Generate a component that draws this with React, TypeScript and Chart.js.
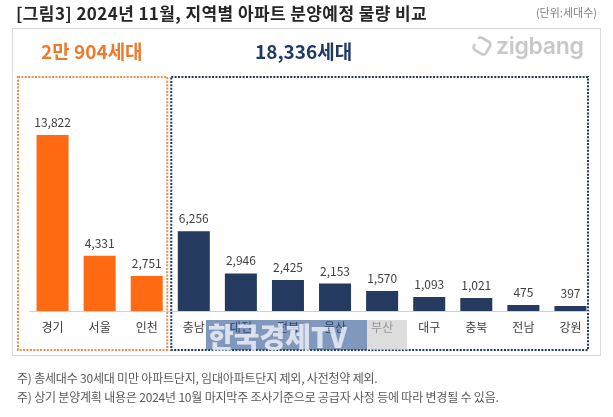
import React, { useEffect, useRef } from "react";
import { Chart, registerables } from "chart.js";

Chart.register(...registerables);

const categories = ["경기", "서울", "인천", "충남", "대전", "전북", "울산", "부산", "대구", "충북", "전남", "강원"];
const households = [13822, 4331, 2751, 6256, 2946, 2425, 2153, 1570, 1093, 1021, 475, 397];
const capitalCount = 3; // 경기·서울·인천
const capitalColor = "#FF6A13";
const provinceColor = "#243A5E";
const capitalTotalLabel = "2만 904세대";
const provinceTotalLabel = "18,336세대";
const yMax = 15000;

const FONT = "'Noto Sans CJK KR', 'Noto Sans', sans-serif";

const decorPlugin = {
  id: "decor",
  beforeDatasetsDraw(chart: any) {
    const { ctx, chartArea, scales } = chart;
    const x = scales.x;
    const y = scales.y;
    const step = (chartArea.right - chartArea.left) / categories.length;
    const boundary = x.getPixelForValue(capitalCount - 1) + step / 2;
    const top = 77;
    const bottom = 350;
    ctx.save();
    ctx.lineWidth = 2;
    ctx.setLineDash([2, 1.4]);
    ctx.strokeStyle = "#F0894A";
    ctx.strokeRect(chartArea.left - 11, top, boundary - 3 - (chartArea.left - 11), bottom - top);
    ctx.strokeStyle = "#1F3864";
    ctx.strokeRect(boundary + 1, top, chartArea.right - 6 - (boundary + 1), bottom - top);
    ctx.setLineDash([]);
    ctx.lineWidth = 1;
    ctx.strokeStyle = "#D0D0D0";
    const y0 = Math.round(y.getPixelForValue(0)) + 0.5;
    ctx.beginPath();
    ctx.moveTo(chartArea.left, y0);
    ctx.lineTo(chartArea.right - 4, y0);
    ctx.stroke();
    ctx.restore();
  },
  afterDatasetsDraw(chart: any) {
    const { ctx } = chart;
    const meta = chart.getDatasetMeta(0);
    ctx.save();
    ctx.font = `12px ${FONT}`;
    ctx.fillStyle = "#404040";
    ctx.textAlign = "center";
    ctx.textBaseline = "alphabetic";
    meta.data.forEach((bar: any, i: number) => {
      ctx.fillText(households[i].toLocaleString("en-US"), bar.x, bar.y - 8);
    });
    ctx.restore();
  },
};

export default function App() {
  const ref = useRef<HTMLCanvasElement | null>(null);

  useEffect(() => {
    if (!ref.current) return;
    const chart = new Chart(ref.current, {
      type: "bar",
      data: {
        labels: categories,
        datasets: [
          {
            data: households,
            backgroundColor: households.map((_, i) => (i < capitalCount ? capitalColor : provinceColor)),
            barPercentage: 0.68,
            categoryPercentage: 1,
          },
        ],
      },
      options: {
        responsive: false,
        animation: false,
        layout: { padding: { left: 29, right: 19, top: 120, bottom: 66 } },
        plugins: { legend: { display: false }, tooltip: { enabled: false } },
        scales: {
          x: {
            grid: { display: false, drawTicks: false },
            border: { display: false },
            ticks: { padding: 9, color: "#404040", font: { family: FONT, size: 12 } },
            afterFit(scale: any) {
              scale.height = 40;
            },
          },
          y: { display: false, min: 0, max: yMax },
        },
      },
      plugins: [decorPlugin],
    });
    return () => chart.destroy();
  }, []);

  return (
    <div
      style={{
        position: "fixed",
        left: 0,
        top: 0,
        width: 613,
        height: 417,
        background: "#fff",
        overflow: "hidden",
        fontFamily: FONT,
      }}
    >
      <div
        style={{
          position: "absolute",
          left: 12,
          top: 28,
          width: 589,
          height: 328,
          border: "1px solid #D9D9D9",
          boxSizing: "border-box",
        }}
      />
      <canvas ref={ref} width={613} height={417} style={{ position: "absolute", left: 0, top: 0 }} />
      <div
        style={{
          position: "absolute",
          left: 16,
          top: 0,
          fontSize: 17,
          fontWeight: 700,
          color: "#262626",
          whiteSpace: "nowrap",
          letterSpacing: 0.4,
        }}
      >
        [그림3] 2024년 11월, 지역별 아파트 분양예정 물량 비교
      </div>
      <div style={{ position: "absolute", right: 16, top: 4, fontSize: 11, color: "#808080", whiteSpace: "nowrap" }}>
        (단위:세대수)
      </div>
      <div
        style={{
          position: "absolute",
          left: 41,
          top: 37,
          fontSize: 19,
          fontWeight: 700,
          color: "#EE7A2E",
          whiteSpace: "nowrap",
        }}
      >
        {capitalTotalLabel}
      </div>
      <div
        style={{
          position: "absolute",
          left: 255,
          top: 37,
          fontSize: 19,
          fontWeight: 700,
          color: "#203864",
          whiteSpace: "nowrap",
        }}
      >
        {provinceTotalLabel}
      </div>
      <div style={{ position: "absolute", left: 470, top: 32, display: "flex", alignItems: "center" }}>
        <svg width="24" height="24" viewBox="0 0 24 24">
          <rect
            x="5"
            y="5"
            width="14"
            height="14"
            rx="3"
            transform="rotate(30 12 12)"
            fill="none"
            stroke="#C8C8C8"
            strokeWidth="2.6"
            strokeDasharray="40 6"
          />
        </svg>
        <span
          style={{
            marginLeft: 2,
            fontFamily: "Inter, 'Noto Sans', sans-serif",
            fontSize: 23,
            fontWeight: 600,
            color: "#C8C8C8",
            letterSpacing: -0.3,
          }}
        >
          zigbang
        </span>
      </div>
      <div
        style={{
          position: "absolute",
          left: 206,
          top: 320,
          width: 161,
          height: 30,
          background: "rgba(38,78,143,0.58)",
        }}
      />
      <div
        style={{
          position: "absolute",
          left: 367,
          top: 320,
          width: 40,
          height: 30,
          background: "rgba(200,200,200,0.62)",
        }}
      />
      <div
        style={{
          position: "absolute",
          left: 208,
          top: 316,
          fontSize: 28,
          fontWeight: 900,
          color: "rgba(255,255,255,0.72)",
          whiteSpace: "nowrap",
          letterSpacing: 0,
        }}
      >
        한국경제TV
      </div>
      <div
        style={{
          position: "absolute",
          left: 17,
          top: 368,
          fontSize: 12,
          lineHeight: "19px",
          color: "#595959",
          whiteSpace: "nowrap",
          letterSpacing: -0.2,
        }}
      >
        <div>주) 총세대수 30세대 미만 아파트단지, 임대아파트단지 제외, 사전청약 제외.</div>
        <div>주) 상기 분양계획 내용은 2024년 10월 마지막주 조사기준으로 공급자 사정 등에 따라 변경될 수 있음.</div>
      </div>
    </div>
  );
}
